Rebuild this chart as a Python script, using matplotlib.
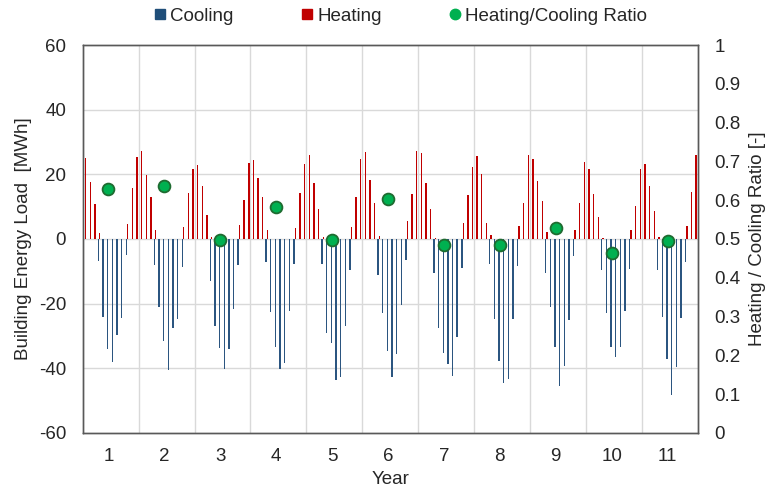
import matplotlib
matplotlib.use("Agg")
import matplotlib.pyplot as plt
from matplotlib.lines import Line2D
import numpy as np

plt.rcParams['font.family'] = ['Liberation Sans', 'DejaVu Sans']

years = ["1", "2", "3", "4", "5", "6", "7", "8", "9", "10", "11"]

# Monthly heating load [MWh], Jan..Dec for each year
heating = [
    25.1, 17.7, 10.9, 1.9, 0, 0, 0, 0, 0, 4.7, 15.8, 25.4,
    27.2, 19.8, 13.0, 2.8, 0, 0, 0, 0, 0, 3.7, 14.3, 21.8,
    23.0, 16.3, 7.4, 0.6, 0, 0, 0, 0, 0, 4.2, 12.2, 23.6,
    24.3, 18.9, 12.9, 2.7, 0, 0, 0, 0, 0, 3.4, 14.1, 23.3,
    26.0, 17.4, 9.3, 0.5, 0, 0, 0, 0, 0, 3.7, 13.0, 24.6,
    26.9, 18.2, 11.2, 1.0, 0, 0, 0, 0, 0, 5.6, 13.8, 27.2,
    26.5, 17.2, 9.3, 0.3, 0, 0, 0, 0, 0, 4.8, 13.5, 22.3,
    25.6, 20.0, 5.0, 1.1, 0, 0, 0, 0, 0, 3.9, 11.2, 26.0,
    24.6, 17.9, 11.9, 2.1, 0, 0, 0, 0, 0, 2.9, 11.2, 23.8,
    21.5, 14.0, 6.8, 0.2, 0, 0, 0, 0, 0, 2.9, 10.3, 21.5,
    23.1, 16.3, 8.6, 0.5, 0, 0, 0, 0, 0, 4.1, 14.6, 25.9,
]

# Monthly cooling load [MWh] (negative), Jan..Dec for each year
cooling = [
    0, 0, 0, -6.9, -24.0, -34.1, -38.0, -29.7, -24.3, -5.1, 0, 0,
    0, 0, 0, -8.0, -20.9, -31.7, -40.5, -27.6, -24.7, -8.7, 0, 0,
    0, 0, 0, -12.9, -26.9, -33.6, -40.3, -34.1, -21.6, -8.1, 0, 0,
    0, 0, 0, -7.2, -22.6, -33.3, -40.1, -38.5, -22.2, -7.8, 0, 0,
    0, 0, 0, -7.7, -29.2, -32.3, -43.6, -42.8, -26.8, -9.7, 0, 0,
    0, 0, 0, -11.1, -22.8, -34.6, -42.6, -35.6, -20.4, -6.4, 0, 0,
    0, 0, 0, -10.5, -27.6, -35.2, -38.8, -42.4, -30.2, -9.0, 0, 0,
    0, 0, 0, -7.7, -24.8, -37.6, -44.5, -43.4, -24.7, -8.5, 0, 0,
    0, 0, 0, -10.5, -20.9, -33.5, -45.4, -39.3, -25.2, -5.4, 0, 0,
    0, 0, 0, -9.5, -23.0, -33.5, -36.4, -33.5, -22.4, -9.3, 0, 0,
    0, 0, 0, -9.5, -24.0, -37.1, -48.3, -39.5, -24.5, -7.1, 0, 0,
]

ratio = [0.630, 0.636, 0.497, 0.582, 0.497, 0.602, 0.485, 0.484, 0.528, 0.464, 0.494]

COOL = '#2B5580'
HEAT = '#C00000'
GREEN = '#00B050'
GRID = '#D9D9D9'
TXT = '#262626'
FS = 13.5

n_months = len(heating)
x = np.arange(n_months)
w = 0.29

fig = plt.figure(figsize=(7.66, 4.92), dpi=100)
ax = fig.add_axes([0.108, 0.120, 0.803, 0.7885])

ax.bar(x - w / 2, cooling, width=w, color=COOL, linewidth=0, zorder=3)
ax.bar(x + w / 2, heating, width=w, color=HEAT, linewidth=0, zorder=3)

ax.set_xlim(-0.5, n_months - 0.5)
ax.set_ylim(-60, 60)
ax.set_yticks(np.arange(-60, 61, 20))
ax.set_yticklabels([str(v) for v in range(-60, 61, 20)])

# year boundaries as vertical grid lines
for b in range(1, len(years)):
    ax.axvline(b * 12 - 0.5, color=GRID, lw=1, zorder=1)
for yv in range(-40, 41, 20):
    ax.axhline(yv, color=GRID, lw=1, zorder=1)

year_pos = np.arange(len(years)) * 12 + 5.0
ax.set_xticks(year_pos)
ax.set_xticklabels(years)

ax.tick_params(axis='both', length=0, labelsize=FS, colors=TXT)
ax.tick_params(axis='x', pad=11)
ax.tick_params(axis='y', pad=12)
for s in ax.spines.values():
    s.set_color('#595959')
    s.set_linewidth(1)

ax.set_xlabel('Year', fontsize=FS, color=TXT, labelpad=4)
ax.set_ylabel('Building Energy Load  [MWh]', fontsize=FS, color=TXT, labelpad=5)

ax2 = ax.twinx()
ax2.set_ylim(0, 1)
ax2.set_yticks(np.arange(0, 1.01, 0.1))
ax2.set_yticklabels(['0'] + ['%.1f' % v for v in np.arange(0.1, 0.95, 0.1)] + ['1'])
ax2.tick_params(axis='y', length=0, labelsize=FS, colors=TXT, pad=12)
for s in ax2.spines.values():
    s.set_color('#595959')
    s.set_linewidth(1)
ax2.plot(year_pos, ratio, linestyle='none', marker='o', markersize=8.5,
         markerfacecolor=GREEN, markeredgecolor='#1E6B30', markeredgewidth=1.3, zorder=5)
ax2.set_ylabel('Heating / Cooling Ratio [-]', fontsize=FS, color=TXT, labelpad=6)

handles = [
    Line2D([], [], linestyle='none', marker='s', markersize=7, color='#1F4E79'),
    Line2D([], [], linestyle='none', marker='s', markersize=7, color=HEAT),
    Line2D([], [], linestyle='none', marker='o', markersize=7.5, color=GREEN),
]
fig.legend(handles, ['Cooling', 'Heating', 'Heating/Cooling Ratio'],
           loc='center', bbox_to_anchor=(0.523, 0.967), ncol=3, frameon=False,
           fontsize=FS, handlelength=0.6, handletextpad=0.25, columnspacing=3.6,
           labelcolor=TXT, borderaxespad=0)

fig.savefig('out.png', dpi=100)
